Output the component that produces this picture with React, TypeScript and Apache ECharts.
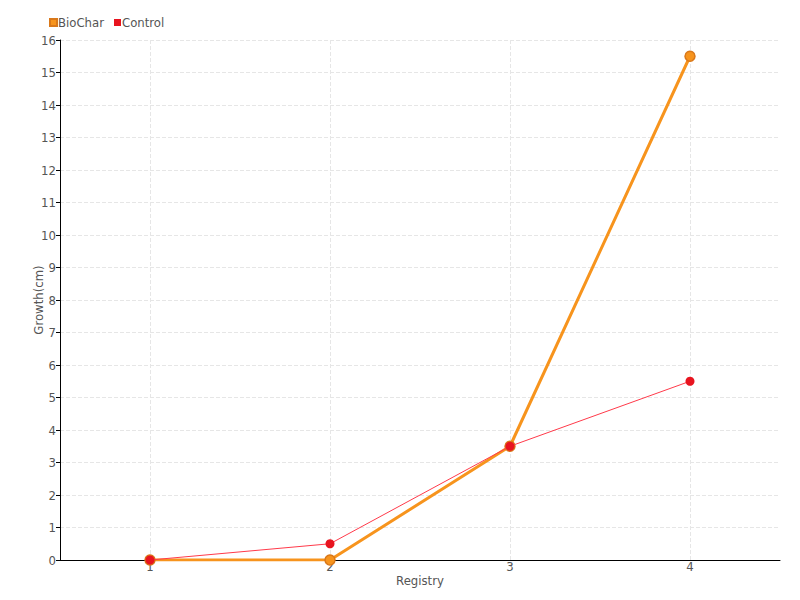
import React, { useEffect, useRef } from "react";
import * as echarts from "echarts";

const categories = ["1", "2", "3", "4"];
const bioChar = [0, 0, 3.5, 15.5];
const control = [0, 0.5, 3.5, 5.5];

const FONT = "'Liberation Sans Narrow', 'DejaVu Sans Condensed', 'Roboto', sans-serif";

export default function App() {
  const ref = useRef<HTMLDivElement>(null);
  useEffect(() => {
    if (!ref.current) return;
    const chart = echarts.init(ref.current, undefined, { renderer: "svg" });
    chart.setOption({
      animation: false,
      textStyle: { fontFamily: FONT },
      legend: {
        left: 44,
        top: 11,
        itemWidth: 7,
        itemHeight: 7,
        itemGap: 10,
        icon: "rect",
        textStyle: { fontFamily: FONT, fontSize: 13, color: "#555", padding: [0, 0, 0, -4] },
        data: ["BioChar", "Control"],
      },
      grid: { left: 60, right: 20, top: 40, bottom: 40 },
      xAxis: {
        type: "category",
        data: categories,
        boundaryGap: true,
        name: "Registry",
        nameLocation: "middle",
        nameGap: 14,
        nameMoveOverlap: false,
        nameTextStyle: { fontFamily: FONT, fontSize: 13, color: "#555" },
        axisLine: { lineStyle: { color: "#000", width: 1 } },
        axisTick: { alignWithLabel: true, length: 4, lineStyle: { color: "#000" } },
        axisLabel: { fontFamily: FONT, fontSize: 13, color: "#555", margin: 0 },
        splitLine: { show: false },
      },
      yAxis: {
        type: "value",
        min: 0,
        max: 16,
        interval: 1,
        name: "Growth(cm)",
        nameLocation: "middle",
        nameGap: 15,
        nameMoveOverlap: false,
        nameTextStyle: { fontFamily: FONT, fontSize: 13, color: "#555" },
        axisLine: { show: true, lineStyle: { color: "#000", width: 1 } },
        axisTick: { show: true, length: 4, lineStyle: { color: "#000" } },
        axisLabel: { fontFamily: FONT, fontSize: 13, color: "#555", margin: 4 },
        splitLine: { show: true, lineStyle: { type: "dashed", color: "#e6e6e6" } },
      },
      series: [
        {
          name: "grid",
          type: "line",
          data: [],
          z: 0,
          silent: true,
          markLine: {
            silent: true,
            z: 0,
            symbol: "none",
            label: { show: false },
            lineStyle: { type: "dashed", color: "#e6e6e6", width: 1 },
            data: categories.map((c) => ({ xAxis: c })),
          },
        },
        {
          name: "BioChar",
          type: "line",
          data: bioChar,
          symbol: "circle",
          symbolSize: 10,
          z: 2,
          lineStyle: { color: "#f7941d", width: 3 },
          itemStyle: { color: "#f7941d", borderColor: "#d9781a", borderWidth: 1.5 },
        },
        {
          name: "Control",
          type: "line",
          data: control,
          symbol: "circle",
          symbolSize: 9,
          z: 3,
          lineStyle: { color: "#ff3a4a", width: 1 },
          itemStyle: { color: "#e8141f", borderColor: "#e8141f", borderWidth: 0 },
        },
      ],
    });
    return () => chart.dispose();
  }, []);
  return <div ref={ref} style={{ width: 800, height: 600, position: "absolute", left: 0, top: 0 }} />;
}
